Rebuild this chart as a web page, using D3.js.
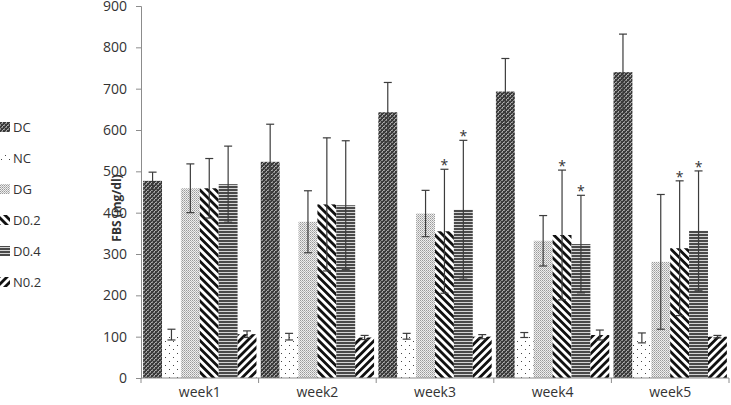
<!DOCTYPE html>
<html>
<head>
<meta charset="utf-8">
<script src="https://cdn.jsdelivr.net/npm/d3@7"></script>
<style>
  body { margin: 0; background: #fff; }
  svg { display: block; font-family: "Open Sans", sans-serif; }
</style>
</head>
<body>
<div id="chart"></div>
<script>
// values
const weeks = ["week1", "week2", "week3", "week4", "week5"];
const groups = ["DC", "NC", "DG", "D0.2", "D0.4", "N0.2"];

const dcMean = [477, 523, 643, 693, 740];
const ncMean = [105, 100, 101, 104, 97];
const dgMean = [459, 378, 398, 332, 281];
const d02Mean = [459, 420, 355, 346, 314];
const d04Mean = [469, 418, 407, 324, 356];
const n02Mean = [106, 98, 100, 104, 100];

const dcErr = [21, 91, 72, 80, 92];
const ncErr = [13, 8, 7, 6, 12];
const dgErr = [59, 75, 56, 61, 163];
const d02Err = [72, 161, 150, 157, 163];
const d04Err = [92, 156, 168, 118, 145];
const n02Err = [8, 5, 5, 12, 3];

// significance stars: [week index, group]
const stars = [[2, "D0.2"], [2, "D0.4"], [3, "D0.2"], [3, "D0.4"], [4, "D0.2"], [4, "D0.4"]];

const yTicks = [0, 100, 200, 300, 400, 500, 600, 700, 800, 900];

const means = [dcMean, ncMean, dgMean, d02Mean, d04Mean, n02Mean];
const errs = [dcErr, ncErr, dgErr, d02Err, d04Err, n02Err];

const data = weeks.flatMap((w, i) => groups.map((g, j) => ({
    week: w, group: g, value: means[j][i], err: errs[j][i]
})));

const width = 731, height = 405;
const margin = {top: 6, right: 2, bottom: 27, left: 141};

const svg = d3.select("#chart").append("svg")
    .attr("width", width)
    .attr("height", height)
    .attr("viewBox", [0, 0, width, height]);

// fill patterns, one per group
const defs = svg.append("defs");

const pDC = defs.append("pattern").attr("id", "p-DC")
    .attr("patternUnits", "userSpaceOnUse").attr("width", 4).attr("height", 4);
pDC.append("rect").attr("width", 4).attr("height", 4).attr("fill", "#3a3a3a");
pDC.append("rect").attr("x", 1).attr("y", 0).attr("width", 2).attr("height", 1).attr("fill", "#8a8a8a");
pDC.append("rect").attr("x", 0).attr("y", 1).attr("width", 1).attr("height", 2).attr("fill", "#8a8a8a");
pDC.append("rect").attr("x", 3).attr("y", 2).attr("width", 1).attr("height", 1).attr("fill", "#b0b0b0");
pDC.append("rect").attr("x", 2).attr("y", 3).attr("width", 1).attr("height", 1).attr("fill", "#b0b0b0");

const pNC = defs.append("pattern").attr("id", "p-NC")
    .attr("patternUnits", "userSpaceOnUse").attr("width", 8).attr("height", 8);
pNC.append("rect").attr("width", 8).attr("height", 8).attr("fill", "#fff");
pNC.append("rect").attr("x", 1).attr("y", 1).attr("width", 1).attr("height", 1).attr("fill", "#444");
pNC.append("rect").attr("x", 5).attr("y", 5).attr("width", 1).attr("height", 1).attr("fill", "#444");

const pDG = defs.append("pattern").attr("id", "p-DG")
    .attr("patternUnits", "userSpaceOnUse").attr("width", 2).attr("height", 2);
pDG.append("rect").attr("width", 2).attr("height", 2).attr("fill", "#eeeeee");
pDG.append("rect").attr("x", 0).attr("y", 0).attr("width", 1).attr("height", 1).attr("fill", "#9a9a9a");
pDG.append("rect").attr("x", 1).attr("y", 1).attr("width", 1).attr("height", 1).attr("fill", "#b8b8b8");

const stripes = (id, angle) => {
    const p = defs.append("pattern").attr("id", id)
        .attr("patternUnits", "userSpaceOnUse").attr("width", 5.6).attr("height", 8)
        .attr("patternTransform", `rotate(${angle})`);
    p.append("rect").attr("width", 5.6).attr("height", 8).attr("fill", "#fff");
    p.append("rect").attr("width", 2.8).attr("height", 8).attr("fill", "#111");
};
stripes("p-D0.2", -45);
stripes("p-N0.2", 45);

const pD04 = defs.append("pattern").attr("id", "p-D0.4")
    .attr("patternUnits", "userSpaceOnUse").attr("width", 4).attr("height", 3);
pD04.append("rect").attr("width", 4).attr("height", 3).attr("fill", "#d4d4d4");
pD04.append("rect").attr("width", 4).attr("height", 2).attr("fill", "#4a4a4a");

const fillFor = g => `url(#p-${g})`;

// scales
const x0 = d3.scaleBand()
    .domain(weeks)
    .range([margin.left, width - margin.right])
    .paddingInner(0)
    .paddingOuter(0);

const x1 = d3.scaleBand()
    .domain(groups)
    .range([0, x0.bandwidth()])
    .paddingOuter(0.1125)
    .paddingInner(0);

const y = d3.scaleLinear()
    .domain([0, 900])
    .range([height - margin.bottom, margin.top]);

// bars
svg.append("g")
  .selectAll("rect")
  .data(data)
  .join("rect")
    .attr("x", d => x0(d.week) + x1(d.group))
    .attr("y", d => y(d.value))
    .attr("width", x1.bandwidth())
    .attr("height", d => y(0) - y(d.value))
    .attr("fill", d => fillFor(d.group));

// error bars
const eb = svg.append("g")
    .attr("stroke", "#3c3c3c")
    .attr("stroke-width", 1.2)
  .selectAll("g")
  .data(data)
  .join("g")
    .attr("transform", d => `translate(${x0(d.week) + x1(d.group) + x1.bandwidth() / 2},0)`);

eb.append("line")
    .attr("y1", d => y(d.value + d.err))
    .attr("y2", d => y(d.value - d.err));
eb.append("line")
    .attr("x1", -4).attr("x2", 4)
    .attr("y1", d => y(d.value + d.err))
    .attr("y2", d => y(d.value + d.err));
eb.append("line")
    .attr("x1", -4).attr("x2", 4)
    .attr("y1", d => y(d.value - d.err))
    .attr("y2", d => y(d.value - d.err));

// stars
const lookup = new Map(data.map(d => [d.week + "|" + d.group, d]));
svg.append("g")
    .attr("font-size", 14)
    .attr("fill", "#333")
    .attr("text-anchor", "middle")
  .selectAll("text")
  .data(stars.map(([w, g]) => lookup.get(weeks[w] + "|" + g)))
  .join("text")
    .attr("x", d => x0(d.week) + x1(d.group) + x1.bandwidth() / 2)
    .attr("y", d => y(d.value + d.err) + 1)
    .text("*");

// y axis
const yAxis = svg.append("g")
    .attr("transform", `translate(${margin.left},0)`)
    .call(d3.axisLeft(y).tickValues(yTicks).tickSize(5).tickPadding(9));
yAxis.select(".domain").attr("stroke", "#8c8c8c");
yAxis.selectAll(".tick line").attr("stroke", "#8c8c8c");
yAxis.selectAll(".tick text")
    .attr("font-family", "'Open Sans', sans-serif")
    .attr("font-size", 14)
    .attr("fill", "#333");

// x axis: tick marks at category boundaries
const xg = svg.append("g");
xg.append("line")
    .attr("x1", margin.left).attr("x2", width - margin.right)
    .attr("y1", y(0)).attr("y2", y(0))
    .attr("stroke", "#8c8c8c");
xg.selectAll("line.bound")
  .data(weeks.concat(["end"]))
  .join("line")
    .attr("class", "bound")
    .attr("x1", (d, i) => margin.left + i * x0.bandwidth())
    .attr("x2", (d, i) => margin.left + i * x0.bandwidth())
    .attr("y1", y(0)).attr("y2", y(0) + 5)
    .attr("stroke", "#8c8c8c");
xg.selectAll("text")
  .data(weeks)
  .join("text")
    .attr("x", d => x0(d) + x0.bandwidth() / 2)
    .attr("y", y(0) + 19)
    .attr("text-anchor", "middle")
    .attr("font-size", 14)
    .attr("fill", "#333")
    .text(d => d);

// y title
svg.append("text")
    .attr("transform", `translate(121,${(y(0) + y(900)) / 2 + 16}) rotate(-90)`)
    .attr("text-anchor", "middle")
    .attr("font-size", 12)
    .attr("font-weight", "bold")
    .attr("fill", "#333")
    .text("FBS (mg/dl)");

// legend
const legend = svg.append("g")
  .selectAll("g")
  .data(groups)
  .join("g")
    .attr("transform", (d, i) => `translate(0,${127 + i * 31})`);
legend.append("rect")
    .attr("x", 0).attr("y", -5)
    .attr("width", 10).attr("height", 10)
    .attr("fill", d => fillFor(d));
legend.append("text")
    .attr("x", 13)
    .attr("dy", "0.35em")
    .attr("font-size", 13)
    .attr("fill", "#333")
    .text(d => d);
</script>
</body>
</html>
